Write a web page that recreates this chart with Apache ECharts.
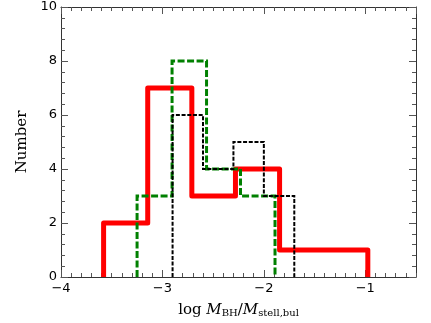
<!DOCTYPE html>
<html>
<head>
<meta charset="utf-8">
<script src="https://cdn.jsdelivr.net/npm/echarts@6/dist/echarts.min.js"></script>
<style>
  html, body { margin: 0; padding: 0; background: #fff; }
  #chart { width: 431px; height: 323px; }
</style>
</head>
<body>
<div id="chart"></div>
<script>
// histogram bin edges (log M_BH/M_stell,bul) and counts
const redEdges = [-3.58, -3.145, -2.71, -2.28, -1.845, -1.41, -0.975];
const redCounts = [2, 7, 3, 4, 1, 1];

const greenEdges = [-3.25, -2.905, -2.565, -2.23, -1.89];
const greenCounts = [3, 8, 4, 3];

const blackEdges = [-2.9, -2.6, -2.3, -2.0, -1.7];
const blackCounts = [6, 4, 5, 3];

const xTicks = [-4, -3, -2, -1];
const yTicks = [0, 2, 4, 6, 8, 10];

// matplotlib histtype='step' outline
function stepLine(edges, counts) {
  const pts = [[edges[0], 0]];
  counts.forEach((c, i) => {
    pts.push([edges[i], c]);
    pts.push([edges[i + 1], c]);
  });
  pts.push([edges[edges.length - 1], 0]);
  return pts;
}

const chart = echarts.init(document.getElementById('chart'));

const axisCol = '#333';
const tickCol = '#555';
const serif = '"DejaVu Serif", "Liberation Serif", serif';
const sans = '"DejaVu Sans", sans-serif';

function xAxisMajor(pos, labels) {
  return {
    type: 'value', position: pos, min: -4, max: -0.5, interval: 1,
    axisLine: { show: true, onZero: false, lineStyle: { color: axisCol, width: 1 } },
    axisTick: { show: true, inside: true, length: 7, lineStyle: { color: tickCol } },
    splitLine: { show: false },
    axisLabel: labels ? {
      show: true, showMaxLabel: false, margin: 5, color: '#000',
      fontFamily: sans, fontSize: 13,
      formatter: v => xTicks.includes(v) ? String(v).replace('-', '\u2212') : ''
    } : { show: false }
  };
}
// minor ticks every 0.1 on a separate overlaid axis
function xAxisMinor(pos) {
  return {
    type: 'value', position: pos, min: -4, max: -0.5, interval: 0.1,
    axisLine: { show: false, onZero: false },
    axisTick: { show: true, inside: true, length: 4, lineStyle: { color: tickCol } },
    splitLine: { show: false },
    axisLabel: { show: false }
  };
}
function yAxisOne(pos, labels) {
  return {
    type: 'value', position: pos, min: 0, max: 10, interval: 2,
    axisLine: { show: true, onZero: false, lineStyle: { color: axisCol, width: 1 } },
    axisTick: { show: true, inside: true, length: 7, lineStyle: { color: tickCol } },
    minorTick: { show: true, splitNumber: 5, length: 4, lineStyle: { color: tickCol } },
    splitLine: { show: false },
    axisLabel: labels ? {
      show: true, margin: 4, color: '#000', fontFamily: sans, fontSize: 13,
      formatter: v => yTicks.includes(v) ? String(v) : ''
    } : { show: false }
  };
}

const xMain = xAxisMajor('bottom', true);
xMain.name = '{t|log }{i|M}{s|BH}{t|/}{i|M}{s|stell,bul}';
xMain.nameLocation = 'middle';
xMain.nameGap = 25;
xMain.nameTextStyle = {
  rich: {
    t: { fontFamily: serif, fontSize: 15, color: '#000' },
    i: { fontFamily: serif, fontStyle: 'italic', fontSize: 15, color: '#000' },
    s: { fontFamily: serif, fontSize: 10, color: '#000', verticalAlign: 'bottom', padding: [6, 0, 0, 0] }
  }
};

const yMain = yAxisOne('left', true);
yMain.name = 'Number';
yMain.nameLocation = 'middle';
yMain.nameGap = 30;
yMain.nameTextStyle = { fontFamily: serif, fontSize: 15, color: '#000' };

chart.setOption({
  animation: false,
  grid: { left: 61, right: 15, top: 7, bottom: 41, containLabel: false },
  xAxis: [xMain, xAxisMinor('bottom'), xAxisMajor('top', false), xAxisMinor('top')],
  yAxis: [yMain, yAxisOne('right', false)],
  series: [
    {
      type: 'line', xAxisIndex: 0, yAxisIndex: 0, symbol: 'none', z: 2,
      data: stepLine(redEdges, redCounts),
      lineStyle: { color: '#ff0000', width: 5, join: 'round' }
    },
    {
      type: 'line', xAxisIndex: 0, yAxisIndex: 0, symbol: 'none', z: 3,
      data: stepLine(greenEdges, greenCounts),
      lineStyle: { color: '#008000', width: 3, type: [7, 2.5], join: 'miter' }
    },
    {
      type: 'line', xAxisIndex: 0, yAxisIndex: 0, symbol: 'none', z: 4,
      data: stepLine(blackEdges, blackCounts),
      lineStyle: { color: '#000', width: 2, type: [4, 1.7], join: 'miter' }
    }
  ]
});
</script>
</body>
</html>
